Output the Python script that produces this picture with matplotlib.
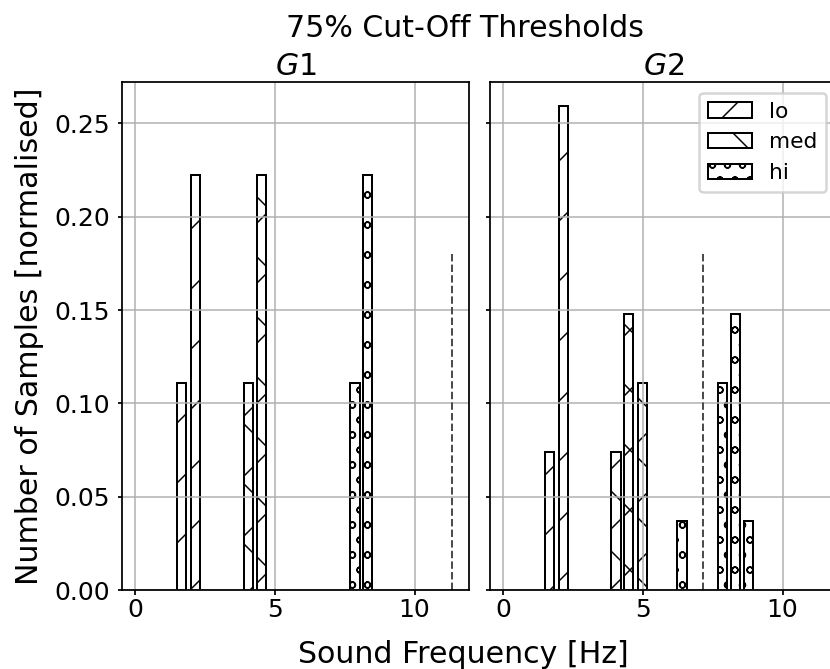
import matplotlib
matplotlib.use("Agg")
import matplotlib.pyplot as plt
from matplotlib.ticker import FormatStrFormatter

# ---- data -------------------------------------------------------------
groups = ["$G1$", "$G2$"]
levels = ["lo", "med", "hi"]
hatches = ["/", "x", "oo"]

# bar centres [Hz] and normalised sample counts per group and level
g1_lo_x = [1.65, 2.15]
g1_lo_y = [0.1111, 0.2222]
g1_med_x = [4.05, 4.52]
g1_med_y = [0.1111, 0.2222]
g1_hi_x = [7.87, 8.33]
g1_hi_y = [0.1111, 0.2222]

g2_lo_x = [1.65, 2.15]
g2_lo_y = [0.0741, 0.2593]
g2_med_x = [4.04, 4.50, 5.00]
g2_med_y = [0.0741, 0.1481, 0.1111]
g2_hi_x = [6.40, 7.85, 8.32, 8.77]
g2_hi_y = [0.0370, 0.1111, 0.1481, 0.0370]

cutoffs = [11.33, 7.16]        # 75% cut-off frequency per group [Hz]
cutoff_height = 0.18

x_ticks = [0, 5, 10]
y_ticks = [0.00, 0.05, 0.10, 0.15, 0.20, 0.25]

series = [
    [(g1_lo_x, g1_lo_y), (g1_med_x, g1_med_y), (g1_hi_x, g1_hi_y)],
    [(g2_lo_x, g2_lo_y), (g2_med_x, g2_med_y), (g2_hi_x, g2_hi_y)],
]

# ---- figure -----------------------------------------------------------
plt.rcParams["font.family"] = ["DejaVu Sans"]
plt.rcParams["hatch.linewidth"] = 0.6
plt.rcParams["axes.linewidth"] = 0.7

W, H = 831, 669
fig = plt.figure(figsize=(W / 180, H / 180), dpi=180)

bottom_px, top_px = 590, 82
ax_h = (bottom_px - top_px) / H
ax_w = 347 / W
ax1 = fig.add_axes([122 / W, 1 - bottom_px / H, ax_w, ax_h])
ax2 = fig.add_axes([490 / W, 1 - bottom_px / H, ax_w, ax_h], sharey=ax1)
axes = [ax1, ax2]

bar_width = 0.33
for ax, title, grp, cut in zip(axes, groups, series, cutoffs):
    for (xs, ys), lvl, hatch in zip(grp, levels, hatches):
        ax.bar(xs, ys, width=bar_width, facecolor="white", edgecolor="black",
               linewidth=0.8, hatch=hatch, label=lvl)
    ax.vlines(cut, 0, cutoff_height, colors="0.3", linestyles="--", linewidth=0.8)
    ax.set_title(title, fontsize=12, pad=2.8)
    ax.grid(True, color="#b0b0b0", linewidth=0.6)
    ax.set_xlim(-0.47, 11.95)
    ax.set_xticks(x_ticks)
    ax.tick_params(axis="x", labelsize=10, length=2, width=0.7, pad=1.2)
    ax.tick_params(axis="y", labelsize=10, length=1.5, width=0.7, pad=3.2)

ax1.set_yticks(y_ticks)
ax1.yaxis.set_major_formatter(FormatStrFormatter("%.2f"))
ax1.set_ylim(0, 0.2722)
ax2.tick_params(axis="y", labelleft=False)

ax1.set_ylabel("Number of Samples [normalised]", fontsize=12)
ax1.yaxis.set_label_coords(-0.225, 0.5)

ax2.legend(loc="upper right", fontsize=8.7, framealpha=0.8)

fig.suptitle("75% Cut-Off Thresholds", x=465 / W, y=1 - 37 / H,
             va="baseline", fontsize=12)
fig.supxlabel("Sound Frequency [Hz]", x=463 / W, y=1 - 663 / H,
              va="baseline", fontsize=12)

fig.savefig("out.png", dpi=180)
